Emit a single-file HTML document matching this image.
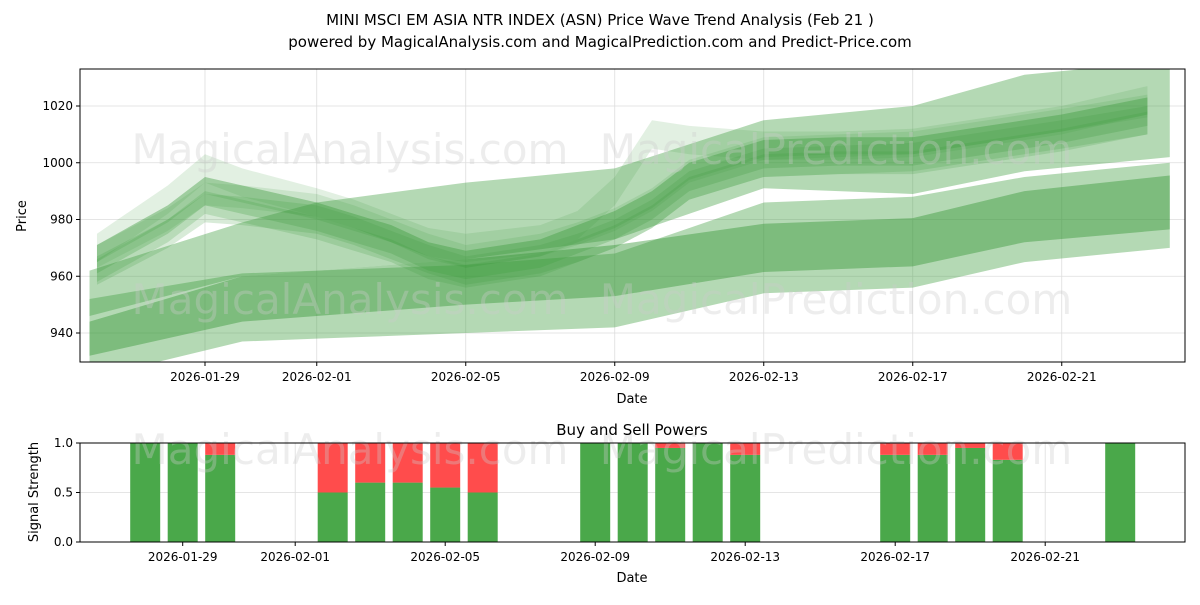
<!DOCTYPE html>
<html><head><meta charset="utf-8"><style>
body{margin:0;background:#fff;font-family:"Liberation Sans","DejaVu Sans",sans-serif;}
svg text{font-family:"DejaVu Sans","Liberation Sans",sans-serif;}
</style></head><body>
<svg id="c" width="1200" height="600" xmlns="http://www.w3.org/2000/svg">
<rect width="1200" height="600" fill="#fff"/>
<text x="600" y="25" font-size="15" text-anchor="middle">MINI MSCI EM ASIA NTR INDEX (ASN) Price Wave Trend Analysis (Feb 21 )</text>
<text x="600" y="47" font-size="15" text-anchor="middle">powered by MagicalAnalysis.com and MagicalPrediction.com and Predict-Price.com</text>
<g id="topg"></g><g id="botg"></g>
</svg>
<script>
// ---- data ----
const chanDays = [-3.1, 1, 3, 7, 11, 15, 19, 22, 25.9];
const lowerCenter = [938, 952, 954, 958, 962, 970, 972, 981, 986];
const lowerHw = [6, 8, 8, 8, 9, 8.5, 8.5, 9, 9.5];
const outerCenter = [938, 949, 950, 952, 955, 970, 972, 980, 985];
const outerHw = [14, 12, 12, 12, 13, 16, 16, 15, 15];
const upperTop = [962, 979, 986, 993, 998, 1015, 1020, 1031, 1036];
const upperBottom = [946, 960, 962, 966, 973, 991, 989, 997, 1002];
const waveDays = [-2.9, -1, 0, 1, 3, 4, 5, 6, 7, 9, 10, 11, 12, 13, 15, 17, 19, 21, 23, 25.3];
const waveA = [966, 980, 990, 987, 981, 977, 973, 967, 964, 968, 973, 978, 985, 995, 1003, 1004, 1004, 1008, 1012, 1018];
const waveB = [962, 975, 984, 983, 980, 976, 971, 966, 962, 966, 970, 975, 982, 992, 1000, 1001, 1002, 1006, 1010, 1015];
const waveC = [970, 987, 998, 993, 986, 982, 977, 972, 970, 973, 978, 990, 1010, 1008, 1006, 1006, 1007, 1011, 1015, 1022];
const barDays = [-1, 0, 1, 4, 5, 6, 7, 8, 11, 12, 13, 14, 15, 19, 20, 21, 22, 25];
const buyVals = [1, 1, 0.88, 0.5, 0.6, 0.6, 0.55, 0.5, 1, 1, 0.95, 1, 0.88, 0.88, 0.88, 0.95, 0.83, 1];
const tickLabels = ["2026-01-29","2026-02-01","2026-02-05","2026-02-09","2026-02-13","2026-02-17","2026-02-21"];
const tickDays = [0, 3, 7, 11, 15, 19, 23];
const yTicks = [940, 960, 980, 1000, 1020];
const sTicks = [0, 0.5, 1];
// ---- axes ----
const NS="http://www.w3.org/2000/svg";
const X=d=>205+d*37.25;
const X2=d=>182.7+d*37.5;
const Y=v=>106+(1020-v)*(227/80);
const YB=v=>542-v*99;
function el(p,t,a){const e=document.createElementNS(NS,t);for(const k in a)e.setAttribute(k,a[k]);p.appendChild(e);return e;}
const topG=document.getElementById('topg'), botG=document.getElementById('botg');
const defs=el(topG,'defs',{});const cp=el(defs,'clipPath',{id:'cp'});el(cp,'rect',{x:80,y:69,width:1105,height:293});
tickDays.forEach(d=>{el(topG,'line',{x1:X(d),x2:X(d),y1:69,y2:362,stroke:'#ddd','stroke-width':0.8});el(botG,'line',{x1:X2(d),x2:X2(d),y1:443,y2:542,stroke:'#ddd','stroke-width':0.8});});
yTicks.forEach(v=>el(topG,'line',{x1:80,x2:1185,y1:Y(v),y2:Y(v),stroke:'#ddd','stroke-width':0.8}));
sTicks.forEach(v=>el(botG,'line',{x1:80,x2:1185,y1:YB(v),y2:YB(v),stroke:'#ddd','stroke-width':0.8}));
const g=el(topG,'g',{'clip-path':'url(#cp)'});
function poly(days,hi,lo,op,name){
  const up=days.map((d,i)=>X(d)+','+Y(hi[i])),dn=days.map((d,i)=>X(d)+','+Y(lo[i])).reverse();
  const p=el(g,'polygon',{points:up.concat(dn).join(' '),fill:'#3a9a3a','fill-opacity':op});
  
  
}
function band(days,vals,hw,op,name){
  const h=Array.isArray(hw)?hw:vals.map(()=>hw);
  poly(days,vals.map((v,i)=>v+h[i]),vals.map((v,i)=>v-h[i]),op,name);
}
band(chanDays,outerCenter,outerHw,0.38,'lower-outer-band');
band(chanDays,lowerCenter,lowerHw,0.45,'lower-inner-band');
poly(chanDays,upperTop,upperBottom,0.38,'upper-band');
[[waveA,5,0.25],[waveB,5,0.2],[waveC,5,0.15],[waveA.map(v=>v-4),4,0.2],[waveB.map(v=>v+5),4,0.15],[waveA.map(v=>v+2),3,0.2]].forEach((w,i)=>band(waveDays,w[0],w[1],w[2],'wave-band-'+i));
[[350,150],[836,150],[350,300],[836,300]].forEach((p,i)=>{const t=el(topG,'text',{x:p[0],y:p[1]+14,'font-size':42,'text-anchor':'middle',fill:'#ccc','fill-opacity':0.35});t.textContent=i%2?'MagicalPrediction.com':'MagicalAnalysis.com';});
barDays.forEach((d,i)=>{
  const b=el(botG,'rect',{x:X2(d)-15,y:YB(buyVals[i]),width:30,height:YB(0)-YB(buyVals[i]),fill:'#4aa84a'});
  
  
  const s=el(botG,'rect',{x:X2(d)-15,y:YB(1),width:30,height:YB(buyVals[i])-YB(1),fill:'#ff4c4c'});
  
  
});
[[350,450],[836,450]].forEach((p,i)=>{const t=el(botG,'text',{x:p[0],y:p[1]+14,'font-size':42,'text-anchor':'middle',fill:'#ccc','fill-opacity':0.35});t.textContent=i?'MagicalPrediction.com':'MagicalAnalysis.com';});
el(topG,'rect',{x:80,y:69,width:1105,height:293,fill:'none',stroke:'#000','stroke-width':1});
el(botG,'rect',{x:80,y:443,width:1105,height:99,fill:'none',stroke:'#000','stroke-width':1});
tickDays.forEach((d,i)=>{
  el(topG,'line',{x1:X(d),x2:X(d),y1:362,y2:366,stroke:'#000'});
  let t=el(topG,'text',{x:X(d),y:381,'font-size':12,'text-anchor':'middle'});t.textContent=tickLabels[i];
  el(botG,'line',{x1:X2(d),x2:X2(d),y1:542,y2:546,stroke:'#000'});
  t=el(botG,'text',{x:X2(d),y:561,'font-size':12,'text-anchor':'middle'});t.textContent=tickLabels[i];
});
yTicks.forEach(v=>{el(topG,'line',{x1:76,x2:80,y1:Y(v),y2:Y(v),stroke:'#000'});const t=el(topG,'text',{x:73,y:Y(v)+4,'font-size':12,'text-anchor':'end'});t.textContent=v;});
sTicks.forEach(v=>{el(botG,'line',{x1:76,x2:80,y1:YB(v),y2:YB(v),stroke:'#000'});const t=el(botG,'text',{x:73,y:YB(v)+4,'font-size':12,'text-anchor':'end'});t.textContent=v.toFixed(1);});
let t=el(topG,'text',{x:632,y:403,'font-size':13,'text-anchor':'middle'});t.textContent='Date';
t=el(topG,'text',{x:26,y:216,'font-size':13,'text-anchor':'middle',transform:'rotate(-90 26 216)'});t.textContent='Price';
t=el(botG,'text',{x:632,y:582,'font-size':13,'text-anchor':'middle'});t.textContent='Date';
t=el(botG,'text',{x:38,y:492,'font-size':13,'text-anchor':'middle',transform:'rotate(-90 38 492)'});t.textContent='Signal Strength';
t=el(botG,'text',{x:632,y:435,'font-size':15,'text-anchor':'middle'});t.textContent='Buy and Sell Powers';
</script>
</body></html>
